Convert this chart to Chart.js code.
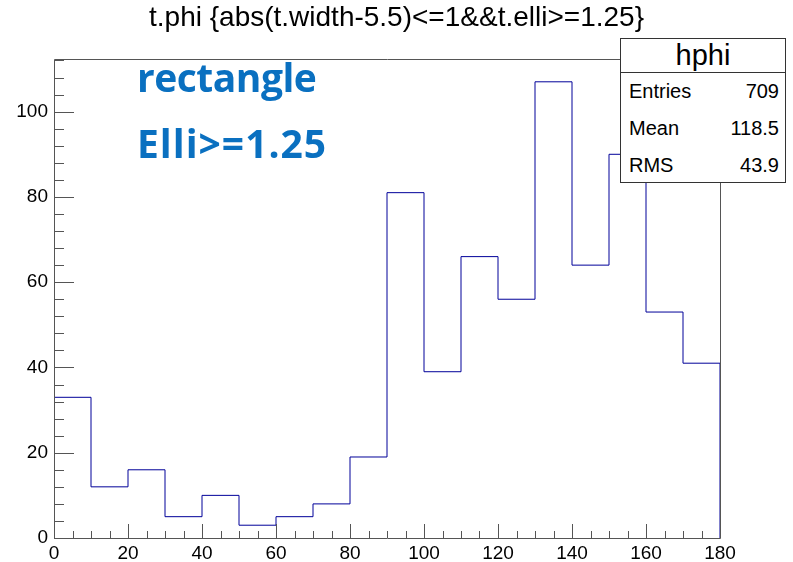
<!DOCTYPE html>
<html>
<head>
<meta charset="utf-8">
<script src="https://cdn.jsdelivr.net/npm/chart.js@4.4.1/dist/chart.umd.min.js"></script>
<style>
  body { margin: 0; background: #fff; }
  #wrap { position: relative; width: 793px; height: 562px; font-family: "Liberation Sans", Arial, sans-serif; }
  #title { position: absolute; left: 0; width: 793px; top: 1px; text-align: center; font-size: 28px; color: #000; }
  .note { position: absolute; left: 137px; font-family: "Open Sans", sans-serif; font-weight: 700; font-size: 39px; color: #0a70c0; line-height: 1; }
  #stats { position: absolute; left: 620px; top: 38px; width: 164px; height: 143px; border: 1px solid #333; background: #fff; }
  #stats .head { height: 33px; border-bottom: 1px solid #333; text-align: center; font-size: 29px; line-height: 33px; }
  #stats .row { position: absolute; left: 8px; right: 6px; font-size: 20px; }
  #stats .row span { float: right; }
</style>
</head>
<body>
<div id="wrap">
  <canvas id="c"></canvas>
  <div id="title">t.phi {abs(t.width-5.5)&lt;=1&amp;&amp;t.elli&gt;=1.25}</div>
  <div class="note" style="top:57px; letter-spacing:-0.5px">rectangle</div>
  <div class="note" style="top:123px; letter-spacing:1px">Elli&gt;=1.25</div>
  <div id="stats"></div>
</div>
<script>
// histogram hphi, 18 bins of 10 deg
const binEdges = [0, 10, 20, 30, 40, 50, 60, 70, 80, 90, 100, 110, 120, 130, 140, 150, 160, 170, 180];
const counts = [33, 12, 16, 5, 10, 3, 5, 8, 19, 81, 39, 66, 56, 107, 64, 90, 53, 41];
const xTicks = [0, 20, 40, 60, 80, 100, 120, 140, 160, 180];
const yTicks = [0, 20, 40, 60, 80, 100];
const statNames = ["Entries", "Mean", "RMS"];
const statValues = ["709", "118.5", "43.9"];
const histName = "hphi";

// stats box
const stats = document.getElementById("stats");
stats.innerHTML = '<div class="head">' + histName + '</div>' +
  statNames.map((n, i) => '<div class="row" style="top:' + (41 + i * 37) + 'px">' + n + '<span>' + statValues[i] + '</span></div>').join("");

// step outline points from bin edges
const points = [{ x: binEdges[0], y: 0 }];
counts.forEach((c, i) => points.push({ x: binEdges[i], y: c }));
points.push({ x: binEdges[binEdges.length - 1], y: counts[counts.length - 1] });
points.push({ x: binEdges[binEdges.length - 1], y: 0 });

const yMax = Math.max(...counts) * 1.05;

// ROOT style frame with inward ticks
const rootFrame = {
  id: "rootFrame",
  afterDatasetsDraw(chart) {
    const { ctx, chartArea: a, scales } = chart;
    ctx.save();
    ctx.strokeStyle = "#555";
    ctx.lineWidth = 1;
    ctx.beginPath();
    ctx.rect(a.left + 0.5, a.top + 0.5, a.right - a.left, a.bottom - a.top);
    ctx.stroke();
    ctx.beginPath();
    for (let v = 0; v <= 180; v += 5) {
      const px = Math.round(scales.x.getPixelForValue(v)) + 0.5;
      const len = v % 20 === 0 ? 14 : 7;
      ctx.moveTo(px, a.bottom);
      ctx.lineTo(px, a.bottom - len);
    }
    for (let v = 0; v <= yMax; v += 4) {
      const py = Math.round(scales.y.getPixelForValue(v)) + 0.5;
      const len = v % 20 === 0 ? 20 : 10;
      ctx.moveTo(a.left, py);
      ctx.lineTo(a.left + len, py);
    }
    ctx.stroke();
    ctx.restore();
  }
};

new Chart(document.getElementById("c"), {
  type: "line",
  data: {
    datasets: [{
      label: histName,
      data: points,
      stepped: "before",
      borderColor: "#000099",
      borderWidth: 1,
      pointRadius: 0,
      fill: false
    }]
  },
  options: {
    responsive: true,
    maintainAspectRatio: false,
    animation: false,
    layout: { padding: { top: 59, right: 73, left: 0, bottom: 0 } },
    plugins: { legend: { display: false }, tooltip: { enabled: false } },
    scales: {
      x: {
        type: "linear",
        min: 0,
        max: 180,
        afterBuildTicks: s => { s.ticks = xTicks.map(v => ({ value: v })); },
        afterFit: s => { s.height = 24; },
        grid: { display: false, drawTicks: false },
        border: { display: false },
        ticks: { padding: 4, color: "#000", font: { family: "Liberation Sans", size: 19 }, maxRotation: 0 }
      },
      y: {
        min: 0,
        max: yMax,
        afterBuildTicks: s => { s.ticks = yTicks.map(v => ({ value: v })); },
        afterFit: s => { s.width = 54; },
        grid: { display: false, drawTicks: false },
        border: { display: false },
        ticks: { padding: 6, color: "#000", font: { family: "Liberation Sans", size: 19 } }
      }
    }
  },
  plugins: [rootFrame]
});
</script>
</body>
</html>
